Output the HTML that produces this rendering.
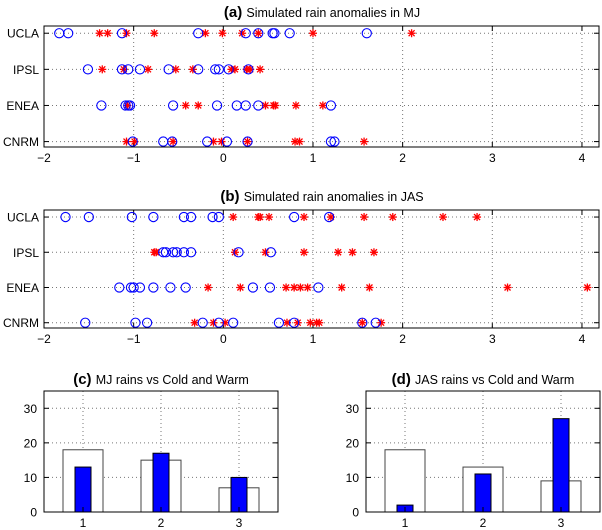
<!DOCTYPE html>
<html><head><meta charset="utf-8">
<style>
body{margin:0;background:#fff;}
svg{display:block;font-family:"Liberation Sans",Arial,sans-serif;}
</style></head>
<body>
<svg id="fig" width="602" height="530" viewBox="0 0 602 530" xmlns="http://www.w3.org/2000/svg"></svg>
<script>
// ---- data ----
const models = ["CNRM","ENEA","IPSL","UCLA"];
const aCircles = {
 UCLA:[-1.83,-1.73,-1.13,-0.28,0.25,0.39,0.55,0.57,0.74,1.6],
 IPSL:[-1.51,-1.13,-1.06,-0.93,-0.61,-0.28,-0.09,-0.05,0.06,0.28],
 ENEA:[-1.36,-1.09,-1.06,-1.04,-0.56,-0.07,0.15,0.25,0.39,1.2],
 CNRM:[-1.01,-0.67,-0.57,-0.18,0.04,0.27,1.2,1.24]
};
const aStars = {
 UCLA:[-1.38,-1.29,-1.08,-0.77,-0.2,-0.01,0.21,0.39,1.0,2.1],
 IPSL:[-1.35,-1.11,-0.84,-0.53,-0.34,0.09,0.13,0.26,0.3,0.41],
 ENEA:[-1.07,-0.42,-0.28,0.47,0.56,0.58,0.81,1.11],
 CNRM:[-1.08,-0.99,-0.56,-0.11,-0.02,0.27,0.8,0.85,1.57]
};
const bCircles = {
 UCLA:[-1.76,-1.5,-1.02,-0.78,-0.44,-0.36,-0.12,-0.05,0.79,1.18],
 IPSL:[-0.67,-0.64,-0.56,-0.52,-0.44,-0.36,0.17,0.53],
 ENEA:[-1.16,-1.03,-1.0,-0.93,-0.78,-0.59,-0.42,0.33,0.52,1.06],
 CNRM:[-1.54,-0.98,-0.85,-0.23,-0.05,0.11,0.62,0.79,1.55,1.7]
};
const bStars = {
 UCLA:[0.11,0.39,0.41,0.51,0.9,1.2,1.57,1.89,2.45,2.83],
 IPSL:[-0.77,-0.75,0.13,0.47,0.9,1.28,1.44,1.68],
 ENEA:[-0.17,0.19,0.7,0.79,0.86,0.94,1.32,1.63,3.17,4.06],
 CNRM:[-0.32,-0.11,0.02,0.71,0.83,0.97,1.04,1.07,1.55,1.76]
};
const xTicks = [-2,-1,0,1,2,3,4];
const barCats = [1,2,3];
const cWhite = [18,15,7];
const cBlue = [13,17,10];
const dWhite = [18,13,9];
const dBlue = [2,11,27];
const yTicksBar = [0,10,20,30];

const NS="http://www.w3.org/2000/svg";
const svg=document.getElementById('fig');
function el(tag,attrs,parent){const e=document.createElementNS(NS,tag);for(const k in attrs)e.setAttribute(k,attrs[k]);(parent||svg).appendChild(e);return e;}

function scatterPanel(name,title,top,bottom,circles,stars){
  const L=44,R=599,xmin=-2,xmax=4.19,ymin=0.85,ymax=4.2;
  const sx=v=>L+(v-xmin)/(xmax-xmin)*(R-L);
  const sy=v=>bottom-(v-ymin)/(ymax-ymin)*(bottom-top);
  const g=el('g',{});
  
  
  const t=el('text',{x:322,y:top-9,'text-anchor':'middle','font-size':'12.5'},g);
  
  
  const tb=el('tspan',{'font-weight':'bold','font-size':'15'},t);tb.textContent=title[0]+' ';
  const tr=el('tspan',{},t);tr.textContent=title[1];
  xTicks.forEach(v=>{
    const gl=el('line',{x1:sx(v),x2:sx(v),y1:top,y2:bottom,stroke:'#777','stroke-dasharray':'1,3','stroke-width':1},g);
    
    
    el('line',{x1:sx(v),x2:sx(v),y1:bottom,y2:bottom-5,stroke:'#000'},g);
    el('line',{x1:sx(v),x2:sx(v),y1:top,y2:top+5,stroke:'#000'},g);
    const tl=el('text',{x:sx(v),y:bottom+15,'text-anchor':'middle','font-size':'12'},g);
    
    
    tl.textContent=v<0?'\u2212'+(-v):String(v);
  });
  models.forEach((m,i)=>{
    const y=sy(i+1);
    el('line',{x1:L,x2:R,y1:y,y2:y,stroke:'#777','stroke-dasharray':'1,3'},g);
    el('line',{x1:L,x2:L+5,y1:y,y2:y,stroke:'#000'},g);
    el('line',{x1:R,x2:R-5,y1:y,y2:y,stroke:'#000'},g);
    const yl=el('text',{x:L-5,y:y+4.5,'text-anchor':'end','font-size':'12'},g);
    
    
    yl.textContent=m;
    stars[m].forEach(v=>{
      const x=sx(v);
      const s=el('g',{stroke:'#ff0000','stroke-width':1.3},g);
      
      
      el('line',{x1:x-4,x2:x+4,y1:y,y2:y},s);
      el('line',{x1:x,x2:x,y1:y-4,y2:y+4},s);
      el('line',{x1:x-3,x2:x+3,y1:y-3,y2:y+3},s);
      el('line',{x1:x-3,x2:x+3,y1:y+3,y2:y-3},s);
    });
    circles[m].forEach(v=>{
      const c=el('circle',{cx:sx(v),cy:y,r:4.6,fill:'none',stroke:'#0000ff','stroke-width':1.1},g);
      
      
    });
  });
  const ax=el('rect',{x:L,y:top,width:R-L,height:bottom-top,fill:'none',stroke:'#000','stroke-width':1},g);
  
  
}

function barPanel(name,title,L,R,white,blue){
  const top=391,bottom=512,ymax=35;
  const sx=v=>L+(v-0.5)/3*(R-L);
  const sy=v=>bottom-v/ymax*(bottom-top);
  const g=el('g',{});
  
  
  const t=el('text',{x:(L+R)/2,y:top-7,'text-anchor':'middle','font-size':'12.5'},g);
  
  
  const tb=el('tspan',{'font-weight':'bold','font-size':'15'},t);tb.textContent=title[0]+' ';
  const tr=el('tspan',{},t);tr.textContent=title[1];
  yTicksBar.forEach(v=>{
    const y=sy(v);
    if(v>0) el('line',{x1:L,x2:R,y1:y,y2:y,stroke:'#777','stroke-dasharray':'1,3'},g);
    el('line',{x1:L,x2:L+5,y1:y,y2:y,stroke:'#000'},g);
    el('line',{x1:R,x2:R-5,y1:y,y2:y,stroke:'#000'},g);
    const yl=el('text',{x:L-7,y:y+4.5,'text-anchor':'end','font-size':'12'},g);
    
    
    yl.textContent=v;
  });
  barCats.forEach((c,i)=>{
    const x=sx(c);
    el('line',{x1:x,x2:x,y1:top,y2:bottom,stroke:'#777','stroke-dasharray':'1,3'},g);
    const w=el('rect',{x:x-20,y:sy(white[i]),width:40,height:bottom-sy(white[i]),fill:'#fff',stroke:'#444','stroke-width':1},g);
    
    
    const b=el('rect',{x:x-8,y:sy(blue[i]),width:16,height:bottom-sy(blue[i]),fill:'#0000ff',stroke:'#000','stroke-width':1},g);
    
    
    el('line',{x1:x,x2:x,y1:bottom,y2:bottom-5,stroke:'#000'},g);
    const xl=el('text',{x:x,y:bottom+15,'text-anchor':'middle','font-size':'12'},g);
    
    
    xl.textContent=c;
  });
  const ax=el('rect',{x:L,y:top,width:R-L,height:bottom-top,fill:'none',stroke:'#000','stroke-width':1},g);
  
  
}

scatterPanel('panel-a',['(a)','Simulated rain anomalies in MJ'],26,147,aCircles,aStars);
scatterPanel('panel-b',['(b)','Simulated rain anomalies in JAS'],210,328,bCircles,bStars);
barPanel('panel-c',['(c)','MJ rains vs Cold and Warm'],44,278,cWhite,cBlue);
barPanel('panel-d',['(d)','JAS rains vs Cold and Warm'],366,600,dWhite,dBlue);
</script>
</body></html>
